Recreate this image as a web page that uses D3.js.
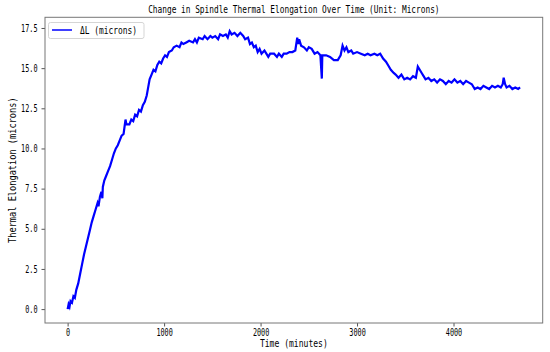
<!DOCTYPE html>
<html>
<head>
<meta charset="utf-8">
<script src="https://cdn.jsdelivr.net/npm/d3@7"></script>
<style>
  body { margin: 0; background: #fff; }
  text { font-family: "DejaVu Sans Mono", monospace; fill: #000; }
</style>
</head>
<body>
<script>
// time (minutes) and thermal elongation (microns)
const times = [0, 10, 20, 30, 45, 60, 75, 90, 110, 130, 150, 170, 190, 210, 230, 250, 270, 290, 310, 320,
  335, 350, 360, 365, 380, 400, 420, 440, 460, 480, 500, 520, 540, 560, 580, 600, 610, 640, 660, 680,
  700, 720, 740, 760, 780, 800, 820, 835, 850, 870, 890, 910, 930, 950, 970, 990, 1010, 1030, 1050, 1080,
  1100, 1130, 1160, 1180, 1200, 1230, 1260, 1300, 1320, 1340, 1360, 1400, 1420, 1450, 1480, 1500, 1530, 1560, 1580, 1610,
  1640, 1660, 1680, 1700, 1730, 1760, 1790, 1820, 1840, 1870, 1890, 1910, 1930, 1950, 1970, 1990, 2010, 2040, 2060, 2080,
  2100, 2140, 2170, 2190, 2220, 2240, 2270, 2300, 2330, 2360, 2380, 2390, 2400, 2420, 2450, 2480, 2500, 2530, 2560, 2590,
  2620, 2635, 2640, 2680, 2720, 2760, 2800, 2830, 2850, 2870, 2890, 2910, 2940, 2960, 3000, 3040, 3080, 3110, 3140, 3180,
  3210, 3240, 3270, 3300, 3330, 3350, 3380, 3400, 3430, 3460, 3490, 3520, 3550, 3580, 3610, 3630, 3650, 3670, 3690, 3710,
  3740, 3770, 3800, 3830, 3860, 3890, 3920, 3950, 3980, 4010, 4040, 4070, 4100, 4130, 4160, 4190, 4220, 4250, 4280, 4310,
  4340, 4370, 4400, 4430, 4460, 4490, 4510, 4520, 4535, 4550, 4580, 4610, 4640, 4670, 4690];
const elongation = [0, 0.3, 0.15, 0.5, 0.4, 0.8, 0.7, 1.2, 1.6, 2.2, 2.8, 3.4, 3.9, 4.4, 4.9, 5.4, 5.8, 6.2, 6.6, 6.4,
  7.0, 7.3, 6.9, 7.6, 8.0, 8.3, 8.6, 8.9, 9.3, 9.7, 10.0, 10.2, 10.5, 10.8, 10.9, 11.8, 11.5, 11.5, 11.8, 11.7,
  12.1, 12.0, 12.4, 12.3, 12.7, 12.9, 13.3, 13.8, 14.3, 14.6, 14.9, 14.8, 15.2, 15.4, 15.3, 15.6, 15.8, 15.7, 16.0, 16.1,
  16.3, 16.4, 16.3, 16.6, 16.5, 16.6, 16.7, 16.6, 16.8, 16.6, 16.9, 16.8, 17.0, 16.8, 17.0, 16.9, 17.0, 16.8, 17.1, 17.0,
  17.1, 16.9, 17.3, 17.1, 17.2, 17.0, 17.2, 17.0, 16.8, 16.9, 16.5, 16.6, 16.3, 16.4, 16.0, 16.2, 15.9, 16.1, 15.9, 15.7,
  15.9, 15.9, 15.7, 15.9, 15.7, 15.9, 15.9, 16.0, 16.0, 16.1, 16.9, 16.5, 16.8, 16.4, 16.3, 16.1, 16.3, 16.2, 15.9, 16.0,
  15.8, 14.35, 15.8, 15.8, 15.7, 15.5, 15.5, 15.8, 16.4, 16.1, 16.3, 16.0, 16.1, 15.9, 16.0, 15.9, 15.8, 15.9, 15.8, 15.9,
  15.8, 15.9, 15.6, 15.4, 15.1, 14.9, 14.7, 14.6, 14.4, 14.6, 14.3, 14.4, 14.3, 14.5, 14.4, 15.1, 14.9, 14.7, 14.5, 14.3,
  14.4, 14.2, 14.3, 14.1, 14.3, 14.2, 14.0, 14.2, 14.1, 14.3, 14.1, 14.2, 14.0, 14.2, 14.1, 14.0, 13.7, 13.8, 13.7, 13.9,
  13.8, 13.7, 13.9, 13.8, 13.9, 13.8, 14.0, 14.4, 14.0, 13.8, 13.9, 13.7, 13.8, 13.7, 13.8];
const xTicks = [0, 1000, 2000, 3000, 4000];
const yTicks = [0, 2.5, 5, 7.5, 10, 12.5, 15, 17.5];

const W = 550, H = 352;
const m = { left: 45, right: 542.7, top: 17.3, bottom: 323 };

const svg = d3.select("body").append("svg")
  .attr("width", W).attr("height", H);

// matplotlib style 5% margins
const xExt = d3.extent(times), yExt = d3.extent(elongation);
const xPad = (xExt[1] - xExt[0]) * 0.05, yPad = (yExt[1] - yExt[0]) * 0.05;
const x = d3.scaleLinear().domain([xExt[0] - xPad, xExt[1] + xPad]).range([m.left, m.right]);
const y = d3.scaleLinear().domain([yExt[0] - yPad, yExt[1] + yPad]).range([m.bottom, m.top]);

// half-width glyphs like the original font
function squeeze(sel, cw) {
  sel.each(function () {
    const t = d3.select(this);
    const n = Array.from(t.text()).length;
    t.attr("textLength", n * cw).attr("lengthAdjust", "spacingAndGlyphs");
  });
}

// line
const pts = times.map((t, i) => [t, elongation[i]]);
svg.append("path")
  .datum(pts)
  .attr("fill", "none")
  .attr("stroke", "#0000ff")
  .attr("stroke-width", 2.2)
  .attr("stroke-linejoin", "miter")
  .attr("d", d3.line().x(d => x(d[0])).y(d => y(d[1])));

// axes
const gx = svg.append("g").attr("transform", `translate(0,${m.bottom})`)
  .call(d3.axisBottom(x).tickValues(xTicks).tickFormat(d3.format("d")).tickSize(3.5).tickPadding(2.5));
const gy = svg.append("g").attr("transform", `translate(${m.left},0)`)
  .call(d3.axisLeft(y).tickValues(yTicks).tickFormat(d3.format(".1f")).tickSize(3.5).tickPadding(4));
[gx, gy].forEach(g => {
  g.select(".domain").remove();
  g.selectAll(".tick line").attr("stroke", "#555");
  g.selectAll(".tick text").attr("font-size", 10).attr("fill", "#222")
    .call(squeeze, 4.1);
});

// frame
svg.append("rect")
  .attr("x", m.left).attr("y", m.top)
  .attr("width", m.right - m.left).attr("height", m.bottom - m.top)
  .attr("fill", "none").attr("stroke", "#777").attr("stroke-width", 1);

// title & labels
svg.append("text").attr("x", (m.left + m.right) / 2).attr("y", 12.5)
  .attr("text-anchor", "middle").attr("font-size", 10)
  .text("Change in Spindle Thermal Elongation Over Time (Unit: Microns)")
  .call(squeeze, 4.7);
svg.append("text").attr("x", (m.left + m.right) / 2).attr("y", 346.5)
  .attr("text-anchor", "middle").attr("font-size", 10)
  .text("Time (minutes)")
  .call(squeeze, 4.85);
svg.append("text")
  .attr("transform", `translate(16,${(m.top + m.bottom) / 2}) rotate(-90)`)
  .attr("text-anchor", "middle").attr("font-size", 10)
  .text("Thermal Elongation (microns)")
  .call(squeeze, 5.2);

// legend
const lg = svg.append("g");
lg.append("rect").attr("x", 48.5).attr("y", 22.5).attr("width", 95.5).attr("height", 16)
  .attr("rx", 2).attr("fill", "#fff").attr("fill-opacity", 0.8)
  .attr("stroke", "#d5d5d5").attr("stroke-width", 1);
lg.append("line").attr("x1", 52).attr("x2", 72).attr("y1", 30).attr("y2", 30)
  .attr("stroke", "#0000ff").attr("stroke-width", 1.5);
lg.append("text").attr("x", 80).attr("y", 34).attr("font-size", 10)
  .text("ΔL (microns)").call(squeeze, 4.75);
</script>
</body>
</html>
